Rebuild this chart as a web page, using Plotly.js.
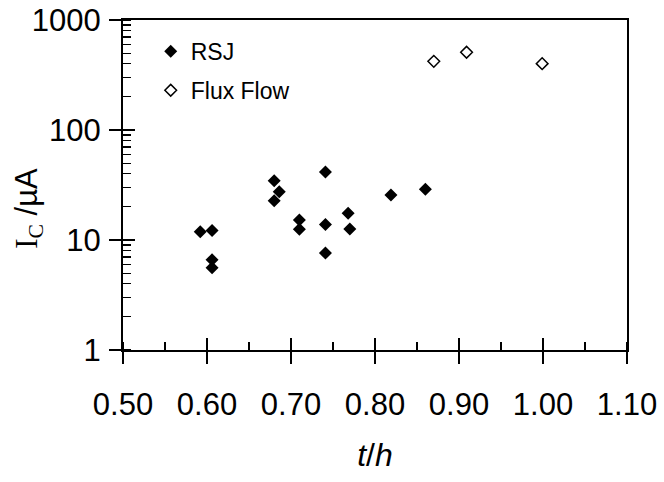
<!DOCTYPE html>
<html>
<head>
<meta charset="utf-8">
<script src="https://cdn.plot.ly/plotly-3.0.1.min.js"></script>
<style>html,body{margin:0;padding:0;background:#fff;}#chart{width:664px;height:482px;}</style>
</head>
<body>
<div id="chart"></div>
<script>
// RSJ data (t/h, Ic in µA)
const rsjX = [0.592, 0.606, 0.606, 0.606, 0.680, 0.686, 0.680, 0.710, 0.710, 0.741, 0.741, 0.741, 0.768, 0.770, 0.819, 0.860];
const rsjY = [11.9, 12.2, 6.6, 5.6, 34.6, 27.5, 22.8, 15.2, 12.5, 41.5, 13.8, 7.6, 17.5, 12.6, 25.7, 28.9];
// Flux flow data
const ffX = [0.870, 0.909, 0.999];
const ffY = [421, 509, 401];
const xTickVals = [0.5, 0.6, 0.7, 0.8, 0.9, 1.0, 1.1];
const xTickText = ['0.50', '0.60', '0.70', '0.80', '0.90', '1.00', '1.10'];
const yTitle = '<span style="font-family:\'Liberation Serif\',\'Times New Roman\',serif">I<sub>C</sub></span> /µA';
const xTitle = '<i>t</i>/<i>h</i>';

const FONT = '"Liberation Sans", Arial, Helvetica, sans-serif';

const traces = [
  {x: rsjX, y: rsjY, type: 'scatter', mode: 'markers', name: 'RSJ', legendgroup: 'a',
   marker: {symbol: 'diamond', size: 10, color: '#000', line: {width: 0}}},
  {x: ffX, y: ffY, type: 'scatter', mode: 'markers', name: 'Flux Flow', legendgroup: 'b',
   marker: {symbol: 'diamond-open', size: 9, color: '#000', line: {width: 1.5, color: '#000'}}},
  // invisible trace for second axes (inner half of major ticks)
  {x: [0.5], y: [1], xaxis: 'x2', yaxis: 'y2', type: 'scatter', mode: 'markers',
   marker: {opacity: 0}, showlegend: false, hoverinfo: 'skip'}
];

const layout = {
  width: 664, height: 482,
  margin: {l: 123, r: 37, t: 20, b: 132},
  paper_bgcolor: '#fff', plot_bgcolor: '#fff',
  font: {family: FONT, color: '#000', size: 31},
  showlegend: true,
  legend: {x: 0.055, y: 0.97, xanchor: 'left', yanchor: 'top', bgcolor: 'rgba(0,0,0,0)',
           font: {family: FONT, size: 23, color: '#000'}, tracegroupgap: 6, borderwidth: 0},
  xaxis: {
    range: [0.5, 1.1], tickvals: xTickVals, ticktext: xTickText,
    ticks: 'outside', ticklen: 12, tickwidth: 1.2, tickcolor: '#000',
    minor: {ticks: 'inside', ticklen: 8, dtick: 0.05, tickwidth: 1.2, tickcolor: '#000', showgrid: false},
    showline: true, linewidth: 2, linecolor: '#000', mirror: true,
    showgrid: false, zeroline: false,
    tickfont: {family: FONT, size: 31, color: '#000'},
    ticklabelstandoff: 14,
    title: {text: xTitle, font: {family: FONT, size: 32, color: '#000'}, standoff: 22}
  },
  yaxis: {
    type: 'log', range: [0, 3], dtick: 1,
    ticks: 'outside', ticklen: 12, tickwidth: 1.2, tickcolor: '#000',
    minor: {ticks: 'inside', ticklen: 8, dtick: 'D1', tickwidth: 1.2, tickcolor: '#000', showgrid: false},
    showline: true, linewidth: 2, linecolor: '#000', mirror: true,
    showgrid: false, zeroline: false,
    tickfont: {family: FONT, size: 31, color: '#000'},
    ticklabelstandoff: 2
  },
  xaxis2: {overlaying: 'x', range: [0.5, 1.1], tickvals: xTickVals, showticklabels: false,
           ticks: 'inside', ticklen: 12, tickwidth: 1.2, tickcolor: '#000',
           showgrid: false, zeroline: false, showline: false},
  yaxis2: {overlaying: 'y', type: 'log', range: [0, 3], dtick: 1, showticklabels: false,
           ticks: 'inside', ticklen: 12, tickwidth: 1.2, tickcolor: '#000',
           showgrid: false, zeroline: false, showline: false},
  annotations: [
    {text: yTitle, xref: 'paper', yref: 'paper', x: -0.187, y: 0.43, xanchor: 'center', yanchor: 'middle',
     textangle: -90, showarrow: false, font: {family: FONT, size: 31, color: '#000'}}
  ]
};

Plotly.newPlot('chart', traces, layout, {displayModeBar: false, staticPlot: true});
</script>
</body>
</html>
